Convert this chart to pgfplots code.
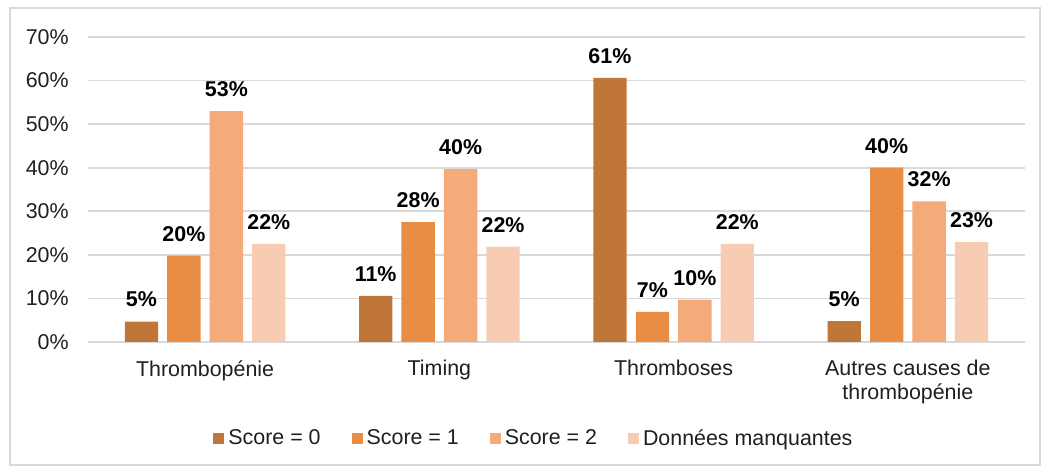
\documentclass[border=0pt]{standalone}
\usepackage{pgfplots}
\pgfplotsset{compat=1.18}
\usepackage{pgfplotstable}
\usepackage{fontspec}
\setmainfont{Liberation Sans}

\definecolor{sA}{HTML}{C17639}
\definecolor{sB}{HTML}{E88D43}
\definecolor{sC}{HTML}{F5AA79}
\definecolor{sD}{HTML}{F8CBB3}
\definecolor{gridgray}{HTML}{D9D9D9}
\definecolor{txt}{HTML}{1F1F1F}

% x = category, y = bar height, lab = printed label
\pgfplotstableread{
x y lab
0 4.7 5
1 10.6 11
2 60.6 61
3 4.8 5
}\scoreA
\pgfplotstableread{
x y lab
0 19.8 20
1 27.5 28
2 6.9 7
3 40.0 40
}\scoreB
\pgfplotstableread{
x y lab
0 53.0 53
1 39.7 40
2 9.7 10
3 32.3 32
}\scoreC
\pgfplotstableread{
x y lab
0 22.5 22
1 21.9 22
2 22.5 22
3 22.9 23
}\manq

\begin{document}
\begin{tikzpicture}
\useasboundingbox (0,0) rectangle (522pt,235pt);
\draw[gridgray, line width=0.6pt] (5pt,2.5pt) rectangle (520pt,231pt);
\begin{axis}[
  at={(44pt,64pt)}, anchor=south west,
  scale only axis, width=468.5pt, height=152.5pt,
  xmin=-0.5, xmax=3.5, ymin=0, ymax=70,
  ytick={0,10,...,70},
  yticklabel={\pgfmathprintnumber{\tick}\%},
  xtick={0,1,2,3},
  xticklabels={Thrombopénie, Timing, Thromboses, {Autres causes de\\thrombopénie}},
  major tick length=0pt,
  axis line style={draw=none},
  ymajorgrids, grid style={gridgray, line width=0.8pt},
  /pgf/number format/assume math mode=true,
  tick label style={font=\fontsize{10.7}{11.8}\selectfont, text=txt},
  yticklabel style={anchor=east, inner sep=0pt, xshift=-9.5pt},
  xticklabel style={anchor=north, inner sep=0pt, yshift=-9pt, align=center},
  ybar, bar width=0.142,
  point meta=explicit symbolic,
  nodes near coords={\pgfplotspointmeta\%},
  every node near coord/.append style={font=\bfseries\fontsize{10.7}{12}\selectfont, text=black, anchor=south, inner sep=0pt, yshift=7pt},
  legend columns=-1,
  legend style={draw=none, at={(0.477,-0.318)}, anchor=center,
    font=\fontsize{10.7}{12}\selectfont, text=txt,
    /tikz/every even column/.append style={column sep=13.5pt}},
  legend image code/.code={\fill[#1] (0pt,-2.75pt) rectangle (5.5pt,2.75pt);},
]
\addplot[fill=sA, draw=none, bar shift=-0.272] table[x=x, y=y, meta=lab] {\scoreA};
\addplot[fill=sB, draw=none, bar shift=-0.0907] table[x=x, y=y, meta=lab] {\scoreB};
\addplot[fill=sC, draw=none, bar shift=0.0907] table[x=x, y=y, meta=lab] {\scoreC};
\addplot[fill=sD, draw=none, bar shift=0.272] table[x=x, y=y, meta=lab] {\manq};
\legend{Score = 0, Score = 1, Score = 2, Données manquantes}
\end{axis}
\end{tikzpicture}
\end{document}
